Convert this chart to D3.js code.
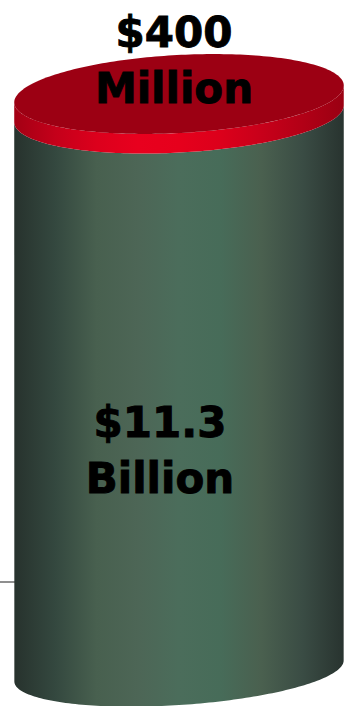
<!DOCTYPE html>
<html>
<head>
<meta charset="utf-8">
<script src="https://cdn.jsdelivr.net/npm/d3@7"></script>
<style>
  html, body { margin: 0; padding: 0; background: #ffffff; }
  svg { display: block; }
  text { font-family: "DejaVu Sans", Verdana, sans-serif; font-weight: bold; fill: #000; stroke: #000; stroke-width: 0.9px; }
</style>
</head>
<body>
<svg id="chart" width="347" height="706"></svg>
<script>
// Stacked cylinder: funding segments in billions of dollars
const segments = ["base", "added"];
const values = [11.3, 0.4];
const labelLines = [["$11.3", "Billion"], ["$400", "Million"]];
const sideColors = [
  ["#27322d", "#34483f", "#48604f", "#4d6656", "#4b6d5b", "#476c59", "#4a604f", "#3a4c44", "#28332f"],
  ["#a30014", "#c4001a", "#dc001c", "#e8001e", "#e6001c", "#dc001b", "#c8001a", "#b20016", "#9a0012"]
];
const capColor = "#9c0013";

const W = 347, H = 706;
const svg = d3.select("#chart");
const defs = svg.append("defs");

const total = d3.sum(values);
const stackTops = d3.cumsum(values);
const stackBottoms = stackTops.map((t, i) => t - values[i]);

// vertical position of each ellipse centre
const y = d3.scaleLinear().domain([0, total]).range([671, 94]);
// perspective: ellipse depth and tilt vary with height
const ry = d3.scaleLinear().domain([0, total]).range([34, 39]);
const tilt = d3.scaleLinear().domain([0, total]).range([-3.8, -3.1]);
const cx = 179, rx = 165;

function ellipsePoint(v, t) {
  const th = tilt(v) * Math.PI / 180, r = ry(v), cy = y(v);
  return [
    cx + rx * Math.cos(t) * Math.cos(th) - r * Math.sin(t) * Math.sin(th),
    cy + rx * Math.cos(t) * Math.sin(th) + r * Math.sin(t) * Math.cos(th)
  ];
}
function frontStart(v) {
  const th = tilt(v) * Math.PI / 180;
  return Math.atan2(-ry(v) * Math.sin(th), rx * Math.cos(th));
}
function frontArc(v, reverse) {
  const t0 = frontStart(v);
  const ts = d3.range(0, 121).map(i => t0 + Math.PI * i / 120);
  if (reverse) ts.reverse();
  return ts.map(t => ellipsePoint(v, t));
}
function fullEllipse(v) {
  return d3.range(0, 240).map(i => ellipsePoint(v, 2 * Math.PI * i / 240));
}

const line = d3.line();

// gradients for the cylinder walls
sideColors.forEach((cols, i) => {
  const g = defs.append("linearGradient")
    .attr("id", "side" + i)
    .attr("gradientUnits", "userSpaceOnUse")
    .attr("x1", cx - rx).attr("x2", cx + rx).attr("y1", 0).attr("y2", 0);
  cols.forEach((c, k) => g.append("stop")
    .attr("offset", k / (cols.length - 1)).attr("stop-color", c));
});

// short axis stub at the left
svg.append("line")
  .attr("x1", 0).attr("x2", 15)
  .attr("y1", 582).attr("y2", 582)
  .attr("stroke", "#8f8f8f").attr("stroke-width", 2);

// walls, drawn bottom to top
segments.forEach((s, i) => {
  const lo = stackBottoms[i], hi = stackTops[i];
  const pts = frontArc(lo, false).concat(frontArc(hi, true));
  svg.append("path")
    .attr("d", line(pts) + "Z")
    .attr("fill", `url(#side${i})`);
});

// top cap
svg.append("path")
  .attr("d", line(fullEllipse(total)) + "Z")
  .attr("fill", capColor);

// labels
const fs = 42;
const g0 = svg.append("g").attr("font-size", fs).attr("text-anchor", "middle");
g0.selectAll("text")
  .data(labelLines[0])
  .join("text")
  .attr("x", 160)
  .attr("y", (d, k) => y(values[0] / 2) + 45 + k * 56)
  .text(d => d);

const g1 = svg.append("g").attr("font-size", fs).attr("text-anchor", "middle");
g1.selectAll("text")
  .data(labelLines[1])
  .join("text")
  .attr("x", 174)
  .attr("y", (d, k) => y(total) - 47 + k * 56)
  .text(d => d);
</script>
</body>
</html>
